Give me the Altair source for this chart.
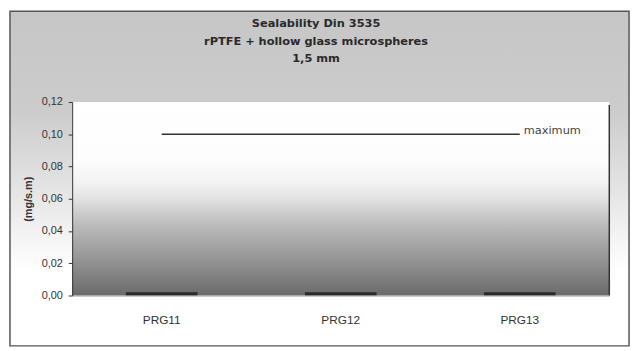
import altair as alt
import pandas as pd

categories = ["PRG11", "PRG12", "PRG13"]
values = [0.002, 0.002, 0.002]
max_value = 0.10
max_label = "maximum"
title_lines = ["Sealability Din 3535", "rPTFE +  hollow glass microspheres", "1,5 mm"]
y_title = "(mg/s.m)"
y_ticks = [0, 0.02, 0.04, 0.06, 0.08, 0.10, 0.12]

W, H = 544, 196
FONT = "Liberation Sans"

bars_df = pd.DataFrame({"cat": categories, "value": values})
max_df = pd.DataFrame({"start": [categories[0]], "end": [categories[-1]], "value": [max_value], "label": [max_label]})
one = alt.Data(values=[{}])

frame_grad = alt.LinearGradient(
    gradient="linear", x1=0, y1=0, x2=0, y2=1,
    stops=[alt.GradientStop(color="#c6c6c6", offset=0),
           alt.GradientStop(color="#cccccc", offset=0.3),
           alt.GradientStop(color="#e6e6e6", offset=0.55),
           alt.GradientStop(color="#ffffff", offset=0.78),
           alt.GradientStop(color="#ffffff", offset=1)])

plot_grad = alt.LinearGradient(
    gradient="linear", x1=0, y1=0, x2=0, y2=1,
    stops=[alt.GradientStop(color="#ffffff", offset=0),
           alt.GradientStop(color="#fdfdfd", offset=0.3),
           alt.GradientStop(color="#f2f2f2", offset=0.42),
           alt.GradientStop(color="#e2e2e2", offset=0.5),
           alt.GradientStop(color="#bababa", offset=0.64),
           alt.GradientStop(color="#989898", offset=0.8),
           alt.GradientStop(color="#6a6a6a", offset=1)])

frame = alt.Chart(one).mark_rect(fill=frame_grad, stroke="#555555", strokeWidth=1.5).encode(
    x=alt.value(-63), x2=alt.value(564), y=alt.value(-92), y2=alt.value(247))

title = alt.Chart(one).mark_text(text=title_lines, font="DejaVu Sans", fontSize=11.5, fontWeight="bold",
                                 color="#2a2a2a", lineHeight=18, align="center", baseline="middle").encode(
    x=alt.value(247), y=alt.value(-79))

plot_bg = alt.Chart(one).mark_rect(fill=plot_grad).encode(
    x=alt.value(0), x2=alt.value(W), y=alt.value(0), y2=alt.value(H))

x_scale = alt.Scale(domain=categories, paddingInner=0.6, paddingOuter=0.3)
y_scale = alt.Scale(domain=[0, 0.12])

x_axis = alt.Axis(title=None, labelAngle=0, ticks=False, domainColor="#9a9a9a", zindex=1,
                  labelFont=FONT, labelFontSize=12, labelColor="#333333", labelPadding=19)
y_axis = alt.Axis(title=y_title, values=y_ticks, zindex=1, labelOverlap=False,
                  labelExpr="replace(format(datum.value, '.2f'), '.', ',')",
                  grid=False, domainColor="#333333", tickColor="#333333", tickSize=4,
                  labelFont=FONT, labelFontSize=11, labelColor="#333333", labelPadding=6,
                  titleFont=FONT, titleFontSize=11, titleFontWeight="bold", titleColor="#333333",
                  titleX=-39, titleY=H / 2)

bars = alt.Chart(bars_df).mark_bar(color="#2a2a2a").encode(
    x=alt.X("cat:N", scale=x_scale, sort=categories, axis=x_axis),
    y=alt.Y("value:Q", scale=y_scale, axis=y_axis),
)

max_rule = alt.Chart(max_df).mark_rule(color="#333333", strokeWidth=1.3).encode(
    x=alt.X("start:N", scale=x_scale, sort=categories, axis=x_axis), x2="end:N",
    y=alt.Y("value:Q", scale=y_scale, axis=y_axis))

max_text = alt.Chart(max_df).mark_text(align="left", baseline="middle", dx=4, dy=-3,
                                       font="DejaVu Sans", fontSize=11.5, color="#444444").encode(
    x=alt.X("end:N", scale=x_scale, sort=categories, axis=x_axis),
    y=alt.Y("value:Q", scale=y_scale, axis=y_axis), text="label:N")

right_edge = alt.Chart(one).mark_rule(color="#333333", strokeWidth=1.5).encode(
    x=alt.value(W), y=alt.value(3), y2=alt.value(H))

chart = alt.layer(frame, title, plot_bg, bars, max_rule, max_text, right_edge).properties(
    width=W, height=H,
    autosize=alt.AutoSizeParams(type="none"),
    padding={"left": 65, "top": 93, "right": 23, "bottom": 54},
).configure_view(stroke=None).configure(background="white")

chart.save("out.html", embed_options={"renderer": "svg", "actions": False})
